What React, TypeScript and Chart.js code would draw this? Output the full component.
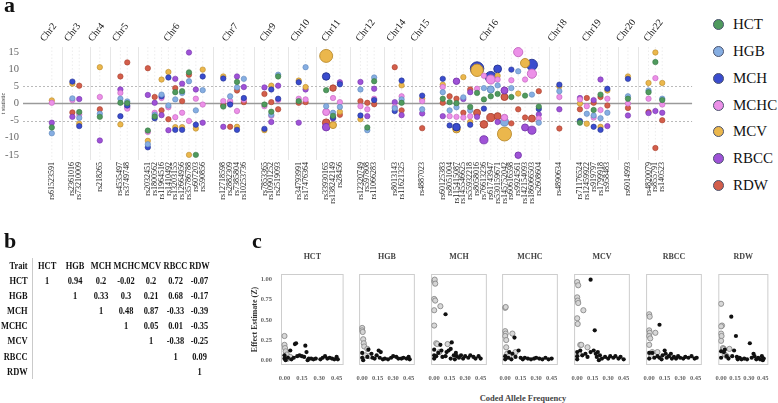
import React, { useEffect, useRef } from "react";
import { Chart, registerables } from "chart.js";

Chart.register(...registerables);

const SERIF = '"Liberation Serif", "Times New Roman", "DejaVu Serif", serif';

// ---------------- Panel a data ----------------
const TRAITS = ["HCT", "HGB", "MCH", "MCHC", "MCV", "RBCC", "RDW"];
const TRAIT_FILL = ["#4f9a5e", "#86aee2", "#3a4cce", "#ec90e8", "#ebb74c", "#9f52d7", "#d35e4b"];
const TRAIT_EDGE = ["#3a7847", "#5e86bb", "#24328f", "#c266be", "#b98a2c", "#7637ab", "#a7412f"];

const CHROMOSOMES = ["Chr2", "Chr3", "Chr4", "Chr5", "Chr6", "Chr7", "Chr9", "Chr10", "Chr11", "Chr12", "Chr14", "Chr15", "Chr16", "Chr18", "Chr19", "Chr20", "Chr22"];
const SNPS_PER_CHR = [1, 2, 1, 2, 9, 4, 3, 2, 3, 3, 2, 1, 15, 1, 5, 1, 3];
const SNP_IDS = [
  "rs61523591",
  "rs2361016", "rs73210009",
  "rs218265",
  "rs4535497", "rs3749748",
  "rs2032451", "rs1800562", "rs11964516", "rs1410492", "rs13203155", "rs12664956", "rs35786788", "rs607203", "rs590856",
  "rs12718598", "rs2882309", "rs7385804", "rs10253736",
  "rs7853365", "rs10901252", "rs2519093",
  "rs34793991", "rs17476364",
  "rs33930165", "rs138242149", "rs28456",
  "rs12320749", "rs597808", "rs11066283",
  "rs8013143", "rs11621325",
  "rs4887023",
  "rs60125383", "rs8051004", "rs115415087", "rs145546625", "rs55932218", "rs8058016", "rs76613236", "rs61743947", "rs530159671", "rs145752042", "rs60616598", "rs9924561", "rs142154093", "rs186066503", "rs2608604",
  "rs4890634",
  "rs71176524", "rs12459922", "rs919797", "rs1799918", "rs958483",
  "rs6014993",
  "rs4820079", "rs855791", "rs140523",
];
const CHR_GAP_SLOTS = 2;
const T_TICKS = [-15, -10, -5, 0, 5, 10, 15];
const T_THRESHOLD = 5;

// [SNP index in SNP_IDS, t statistic, relative marker size (1 = regular)]
const HCT_T = [[0, -7.0], [2, -2.5], [3, -3.9], [4, 0.2], [5, 0.1], [6, -7.9], [7, -3.8], [10, 3.3], [11, 3.6], [12, 9.1], [13, -15.0], [15, -0.9], [17, 6.3], [19, -0.3], [20, -2.4], [21, 7.9], [22, 0.7], [24, 3.9], [25, -3.6], [28, -7.0], [29, 6.5], [31, 0.2], [33, 1.4], [34, 0.4], [35, 0.1], [37, -1.0], [38, 3.1], [39, 1.2], [40, 2.1], [41, 2.8], [43, 1.9], [45, 2.3], [47, -0.9], [49, -5.6], [51, -1.9], [52, 2.6], [54, 1.4], [55, 3.3], [56, 12.1], [57, 1.0]];
const HGB_T = [[0, -8.7], [1, 1.5], [2, -4.2], [3, -3.0], [4, 1.4], [5, 0.6], [6, -11.9], [7, -3.3], [8, 2.6], [9, -0.6], [10, 1.2], [11, 3.1], [12, 6.5], [13, -2.0], [14, 3.9], [16, 2.1], [17, 4.7], [18, 7.2], [20, -3.3], [21, 8.4], [23, 10.6], [24, -0.8], [25, -2.7], [26, -1.0], [27, 4.1], [28, -7.8], [29, 7.6], [30, -1.4], [31, 1.2], [32, -1.7], [33, 3.3], [34, -2.0], [35, -1.1], [36, 1.8], [37, -2.0], [39, 4.5], [40, 4.1, 1.3], [41, 5.3], [42, -5.4, 1.5], [43, 4.5], [44, 9.4], [46, 2.6], [47, -5.6], [48, 3.6], [50, -3.0], [51, -3.5], [52, -4.3], [53, -2.7], [54, 2.1], [55, 3.8], [57, 1.4]];
const MCH_T = [[1, 6.4], [2, -6.6], [4, -3.7], [5, -0.6], [6, -12.8], [7, -4.3], [8, 2.1], [9, 7.6], [10, -7.7], [11, -7.7], [13, -6.2], [14, 7.9], [15, 7.3], [16, -0.3], [17, -7.7], [18, 1.6], [19, -7.4], [20, 4.1], [21, 1.4], [22, 6.2], [24, 7.9, 1.4], [25, -4.1], [26, 5.6], [27, -3.5], [29, 1.0], [30, -2.2], [31, 6.7], [32, 2.3], [33, 7.2], [34, -6.4], [35, -6.9, 1.4], [37, -6.2], [38, 10.2, 2.5], [39, -1.5], [40, 7.7, 2.1], [41, 10.1, 1.45], [43, 9.9], [46, 11.3, 2.05], [47, -1.6], [48, 5.5], [49, -5.1], [51, -6.8], [52, -7.7], [53, 4.3], [54, 7.2]];
const MCHC_T = [[0, 0.2], [1, 1.0], [2, -3.2], [3, 1.9], [4, 3.1], [5, -1.5], [6, -8.3], [7, -2.7], [8, 1.6], [9, -1.1], [10, -4.0], [11, -2.7], [12, -5.1], [13, 1.4], [14, -0.3], [15, 0.7], [16, 0.7], [17, -2.2], [18, 1.1], [19, -0.8], [20, -3.6], [21, 1.0], [22, 1.4], [23, 1.2], [24, -2.5, 1.3], [25, 1.6], [26, 0.4], [27, -0.8], [28, -1.7], [29, 1.4], [30, -1.0], [31, 2.1], [32, 0.7], [33, 4.8], [34, -3.7], [35, -3.9], [36, -4.1], [37, -3.7], [38, 4.3], [39, 8.1], [40, 7.0, 1.7], [41, 7.0], [42, -4.1, 1.2], [43, 6.8], [44, 15.0, 1.7], [45, 7.0], [46, 8.7, 1.7], [47, -4.4], [48, 1.9], [49, 1.2], [50, -0.8], [51, -4.1], [52, -1.9], [53, 1.4], [54, 0.0], [55, 1.4], [56, 7.4], [57, -0.3]];
const MCV_T = [[0, 0.9], [1, 5.8], [2, -5.9], [3, 10.6], [4, -6.1], [6, -10.9], [8, 7.0], [9, 9.2], [10, -6.9], [11, -6.9], [12, -15.0], [13, -7.3], [14, 9.9], [15, 7.9], [17, -6.8], [19, -7.8], [20, 5.2], [22, 6.7], [23, 4.8], [24, 13.9, 2.4], [25, -6.3, 1.3], [26, -2.4], [27, -4.6], [31, 5.3], [32, 1.4], [33, 5.5], [35, -7.5, 1.4], [36, 7.7], [37, -5.4], [38, 9.7, 2.3], [41, 8.1], [42, -8.9, 2.6], [44, 2.9], [45, 11.8, 1.7], [48, 5.0], [49, 0.0], [50, -5.9], [52, -6.8], [53, 3.8], [54, 7.9], [55, 6.0], [56, 14.9], [57, 6.0]];
const RBCC_T = [[0, -5.6], [1, -3.9], [2, 1.3], [3, -10.8], [4, 4.1], [5, -1.0], [6, 2.5], [7, 0.2], [8, -3.4], [9, -7.8], [10, 7.2], [11, 5.8], [12, 14.9], [13, 4.1], [14, -5.6], [15, -6.8], [16, 0.2], [17, 7.9], [18, 4.8], [19, 4.7], [20, -5.4], [21, 5.2], [22, -5.6], [23, 4.1], [24, -6.9, 1.4], [25, -4.4], [26, 6.2], [27, 6.3], [28, -3.7], [29, 4.3], [30, 0.4], [31, -3.4], [32, -2.9], [33, -3.7], [35, 6.5, 1.2], [36, 1.3], [37, 3.3], [38, -3.9], [39, -10.6, 1.5], [41, -5.4], [42, 3.8, 1.3], [44, -15.1, 1.2], [45, -7.0, 1.3], [46, -7.8, 1.5], [47, -3.2], [48, -1.7], [49, 1.6], [51, 1.0], [52, 7.0], [53, -6.6], [54, -3.5], [55, -2.8], [56, -2.2], [57, -2.7]];
const RDW_T = [[1, -2.6], [2, 5.2], [3, -1.7], [4, 7.9], [5, 12.0], [6, 10.3], [7, 1.9], [8, -2.0], [9, -4.6], [10, 4.5], [11, 0.7], [12, 8.4], [15, -0.5], [16, -6.8], [17, 3.8], [18, 0.4], [19, 2.8], [20, 0.4], [21, -1.7], [22, 0.2], [23, 0.4], [24, -5.6, 1.4], [25, 4.5, 1.2], [26, -3.3], [27, 0.7], [28, 0.2], [29, -0.2], [30, 10.6], [31, -2.0], [32, -7.2], [33, 0.2], [34, 2.1], [35, 1.4], [36, -2.7], [37, 4.1], [38, -2.7, 1.3], [39, -6.1, 1.4], [40, -4.1, 1.5], [41, -3.7, 1.3], [42, 1.9, 1.3], [43, -5.8], [44, -1.7], [45, -4.1], [46, -4.4, 1.3], [47, 3.6], [48, -7.3], [49, -1.7], [50, 1.6], [51, 0.2], [52, 1.9], [53, -0.6], [54, -1.3], [55, -2.5], [56, -13.0], [57, -4.9]];
const T_BY_TRAIT = [HCT_T, HGB_T, MCH_T, MCHC_T, MCV_T, RBCC_T, RDW_T];

// ---------------- Panel b data (upper triangle, from the diagonal) ----------------
const CORR_HCT = [1, 0.94, 0.2, -0.02, 0.2, 0.72, -0.07];
const CORR_HGB = [1, 0.33, 0.3, 0.21, 0.68, -0.17];
const CORR_MCH = [1, 0.48, 0.87, -0.33, -0.39];
const CORR_MCHC = [1, 0.05, 0.01, -0.35];
const CORR_MCV = [1, -0.38, -0.25];
const CORR_RBCC = [1, 0.09];
const CORR_RDW = [1];
const CORR_ROWS = [CORR_HCT, CORR_HGB, CORR_MCH, CORR_MCHC, CORR_MCV, CORR_RBCC, CORR_RDW];

// ---------------- Panel c data: [coded allele frequency, effect estimate Z] ----------------
const FREQ_TICKS = [0, 0.15, 0.3, 0.45];
const Z_TICKS = [0, 0.25, 0.5, 0.75, 1];

const HCT_FILLED = [[0.0, 0.06], [0.0, 0.02], [0.01, 0.0], [0.03, 0.03], [0.05, 0.12], [0.06, 0.01], [0.08, 0.03], [0.09, 0.2], [0.1, 0.21], [0.11, 0.05], [0.13, 0.06], [0.15, 0.05], [0.17, 0.04], [0.18, 0.18], [0.19, 0.1], [0.2, 0.0], [0.21, 0.02], [0.23, 0.02], [0.25, 0.01], [0.27, 0.02], [0.31, 0.01], [0.33, 0.03], [0.35, 0.05], [0.37, 0.02], [0.39, 0.03], [0.41, 0.02], [0.43, 0.01], [0.45, 0.04], [0.46, 0.01]];
const HCT_OPEN = [[0.0, 0.3], [0.0, 0.19], [0.005, 0.15], [0.01, 0.11], [0.02, 0.07], [0.03, 0.02], [0.05, 0.04]];
const HGB_FILLED = [[0.0, 0.09], [0.0, 0.03], [0.01, 0.0], [0.05, 0.04], [0.06, 0.13], [0.09, 0.08], [0.1, 0.03], [0.12, 0.02], [0.14, 0.06], [0.16, 0.12], [0.18, 0.1], [0.17, 0.03], [0.2, 0.01], [0.22, 0.02], [0.25, 0.01], [0.28, 0.03], [0.3, 0.05], [0.33, 0.04], [0.35, 0.02], [0.38, 0.02], [0.4, 0.03], [0.43, 0.02], [0.45, 0.04], [0.46, 0.01]];
const HGB_OPEN = [[0.0, 0.4], [0.0, 0.37], [0.005, 0.35], [0.01, 0.26], [0.015, 0.21], [0.02, 0.17], [0.05, 0.14], [0.03, 0.06], [0.07, 0.05]];
const MCH_FILLED = [[0.11, 0.57], [0.06, 0.19], [0.0, 0.13], [0.0, 0.06], [0.0, 0.02], [0.02, 0.05], [0.04, 0.09], [0.07, 0.12], [0.08, 0.04], [0.11, 0.05], [0.12, 0.1], [0.14, 0.12], [0.17, 0.22], [0.16, 0.14], [0.16, 0.02], [0.19, 0.06], [0.2, 0.01], [0.21, 0.09], [0.22, 0.05], [0.24, 0.03], [0.26, 0.06], [0.28, 0.02], [0.3, 0.05], [0.33, 0.03], [0.35, 0.06], [0.38, 0.04], [0.4, 0.02], [0.43, 0.05], [0.45, 0.02]];
const MCH_OPEN = [[0.0, 0.98], [0.005, 1.0], [0.01, 0.95], [0.0, 0.76], [0.01, 0.74], [0.0, 0.62], [0.06, 0.67], [0.0, 0.43], [0.02, 0.21], [0.03, 0.2], [0.13, 0.2], [0.05, 0.1]];
const MCHC_FILLED = [[0.09, 0.28], [0.04, 0.1], [0.07, 0.08], [0.0, 0.05], [0.0, 0.01], [0.03, 0.03], [0.06, 0.01], [0.13, 0.12], [0.1, 0.04], [0.15, 0.03], [0.17, 0.01], [0.19, 0.03], [0.22, 0.02], [0.25, 0.01], [0.28, 0.02], [0.3, 0.03], [0.33, 0.02], [0.36, 0.01], [0.39, 0.03], [0.42, 0.01], [0.45, 0.02]];
const MCHC_OPEN = [[0.0, 0.65], [0.005, 0.66], [0.0, 0.36], [0.005, 0.33], [0.0, 0.3], [0.01, 0.25], [0.01, 0.16], [0.07, 0.33], [0.02, 0.08], [0.1, 0.1], [0.04, 0.05]];
const MCV_FILLED = [[0.13, 1.0], [0.17, 0.37], [0.0, 0.1], [0.0, 0.05], [0.0, 0.01], [0.03, 0.12], [0.05, 0.06], [0.08, 0.08], [0.1, 0.04], [0.13, 0.1], [0.16, 0.12], [0.18, 0.08], [0.19, 0.04], [0.2, 0.1], [0.21, 0.0], [0.22, 0.06], [0.24, 0.02], [0.27, 0.04], [0.3, 0.02], [0.32, 0.05], [0.35, 0.03], [0.37, 0.05], [0.4, 0.02], [0.42, 0.04], [0.45, 0.01]];
const MCV_OPEN = [[0.0, 0.97], [0.01, 0.93], [0.0, 0.78], [0.005, 0.74], [0.01, 0.71], [0.0, 0.52], [0.005, 0.45], [0.06, 0.62], [0.03, 0.19], [0.04, 0.19], [0.1, 0.16], [0.02, 0.08]];
const RBCC_FILLED = [[0.1, 0.44], [0.0, 0.09], [0.0, 0.02], [0.03, 0.09], [0.05, 0.03], [0.08, 0.05], [0.1, 0.03], [0.12, 0.01], [0.13, 0.06], [0.15, 0.12], [0.16, 0.08], [0.17, 0.03], [0.19, 0.05], [0.21, 0.08], [0.22, 0.02], [0.24, 0.04], [0.26, 0.02], [0.28, 0.05], [0.3, 0.03], [0.33, 0.02], [0.35, 0.04], [0.38, 0.03], [0.41, 0.05], [0.44, 0.02], [0.46, 0.03]];
const RBCC_OPEN = [[0.0, 0.57], [0.005, 0.54], [0.0, 0.37], [0.005, 0.34], [0.0, 0.3], [0.01, 0.27], [0.0, 0.19], [0.06, 0.34], [0.03, 0.1], [0.08, 0.1], [0.02, 0.05]];
const RDW_FILLED = [[0.11, 0.54], [0.16, 0.3], [0.31, 0.21], [0.0, 0.11], [0.0, 0.03], [0.03, 0.1], [0.04, 0.13], [0.06, 0.05], [0.08, 0.02], [0.12, 0.05], [0.14, 0.12], [0.17, 0.04], [0.18, 0.01], [0.2, 0.03], [0.22, 0.01], [0.25, 0.02], [0.28, 0.01], [0.33, 0.03], [0.35, 0.08], [0.36, 0.05], [0.38, 0.01], [0.4, 0.03], [0.42, 0.01], [0.44, 0.05], [0.45, 0.0], [0.46, 0.02]];
const RDW_OPEN = [[0.0, 0.7], [0.01, 0.43], [0.0, 0.42], [0.0, 0.33], [0.005, 0.3], [0.0, 0.24], [0.02, 0.15], [0.03, 0.14], [0.09, 0.14], [0.04, 0.07], [0.06, 0.05]];
const FACET_FILLED = [HCT_FILLED, HGB_FILLED, MCH_FILLED, MCHC_FILLED, MCV_FILLED, RBCC_FILLED, RDW_FILLED];
const FACET_OPEN = [HCT_OPEN, HGB_OPEN, MCH_OPEN, MCHC_OPEN, MCV_OPEN, RBCC_OPEN, RDW_OPEN];

// ---------------- helpers ----------------
const SNP_CHR: number[] = SNPS_PER_CHR.flatMap((n, c) => Array(n).fill(c));
const snpSlot = (i: number) => i + SNP_CHR[i] * CHR_GAP_SLOTS;
const chrFirst = (c: number) => SNP_CHR.indexOf(c);
const chrLast = (c: number) => SNP_CHR.lastIndexOf(c);
const chrCenter = (c: number) => (snpSlot(chrFirst(c)) + snpSlot(chrLast(c))) / 2;
const chrBoundary = (c: number) => (snpSlot(chrLast(c - 1)) + snpSlot(chrFirst(c))) / 2;
const X_MIN = -4.2;
const X_MAX = snpSlot(SNP_IDS.length - 1) + 4.35;
const BASE_RADIUS = 2.7;

function ManhattanPanel() {
  const ref = useRef<HTMLCanvasElement>(null);
  useEffect(() => {
    const guides = {
      id: "guides",
      beforeDatasetsDraw(chart: any) {
        const { ctx, chartArea: a, scales } = chart;
        const x = scales.x;
        const y = scales.y;
        const vline = (px: number) => {
          ctx.beginPath();
          ctx.moveTo(px, a.top);
          ctx.lineTo(px, a.bottom);
          ctx.stroke();
        };
        const hline = (py: number) => {
          ctx.beginPath();
          ctx.moveTo(a.left, py);
          ctx.lineTo(a.right, py);
          ctx.stroke();
        };
        ctx.save();
        ctx.strokeStyle = "#e6e6e6";
        ctx.lineWidth = 1;
        for (let c = 1; c < CHROMOSOMES.length; c++) {
          vline(Math.round(x.getPixelForValue(chrBoundary(c))) + 0.5);
        }
        ctx.strokeStyle = "rgba(150,150,150,0.25)";
        ctx.lineWidth = 0.7;
        ctx.setLineDash([1.5, 2]);
        SNP_IDS.forEach((_, i) => vline(x.getPixelForValue(snpSlot(i))));
        ctx.strokeStyle = "#b3b3b3";
        ctx.lineWidth = 0.9;
        ctx.setLineDash([2, 2]);
        hline(Math.round(y.getPixelForValue(T_THRESHOLD)) + 0.5);
        hline(Math.round(y.getPixelForValue(-T_THRESHOLD)) + 0.5);
        ctx.setLineDash([]);
        ctx.strokeStyle = "#9a9a9a";
        ctx.lineWidth = 1.3;
        hline(y.getPixelForValue(0));
        ctx.restore();
      },
    };

    const datasets: any[] = [];
    TRAITS.forEach((name, k) => {
      const pts = T_BY_TRAIT[k];
      datasets.push({
        label: name,
        order: 0,
        data: pts.filter((p) => p.length < 3).map((p) => ({ x: snpSlot(p[0]), y: p[1] })),
        backgroundColor: TRAIT_FILL[k],
        borderColor: TRAIT_EDGE[k],
        borderWidth: 0.6,
        pointRadius: BASE_RADIUS,
      });
      pts.filter((p) => p.length >= 3).forEach((p) => {
        datasets.push({
          label: name,
          order: Math.round(p[2] * 10),
          data: [{ x: snpSlot(p[0]), y: p[1] }],
          backgroundColor: TRAIT_FILL[k],
          borderColor: TRAIT_EDGE[k],
          borderWidth: 0.9,
          pointRadius: BASE_RADIUS * p[2],
        });
      });
    });

    const chart = new Chart(ref.current as HTMLCanvasElement, {
      type: "scatter",
      data: { datasets },
      options: {
        animation: false,
        responsive: false,
        maintainAspectRatio: false,
        events: [],
        layout: { padding: { left: 0, right: 5, top: 0, bottom: 0 } },
        plugins: { legend: { display: false }, tooltip: { enabled: false } },
        scales: {
          x: {
            type: "linear",
            position: "bottom",
            min: X_MIN,
            max: X_MAX,
            afterBuildTicks: (s: any) => {
              s.ticks = SNP_IDS.map((_, i) => ({ value: snpSlot(i) }));
            },
            afterFit: (s: any) => {
              s.height = 90;
            },
            ticks: {
              autoSkip: false,
              minRotation: 90,
              maxRotation: 90,
              padding: 2,
              color: "#222",
              font: { family: SERIF, size: 8 },
              callback: (_v: any, i: number) => SNP_IDS[i],
            },
            grid: { display: false, drawTicks: false },
            border: { display: false },
          },
          chr: {
            type: "linear",
            axis: "x",
            position: "top",
            min: X_MIN,
            max: X_MAX,
            afterBuildTicks: (s: any) => {
              s.ticks = CHROMOSOMES.map((_, c) => ({ value: chrCenter(c) }));
            },
            afterFit: (s: any) => {
              s.height = 47;
            },
            ticks: {
              autoSkip: false,
              minRotation: 52,
              maxRotation: 52,
              padding: 3,
              color: "#222",
              font: { family: SERIF, size: 10 },
              callback: (_v: any, i: number) => CHROMOSOMES[i],
            },
            grid: { display: false, drawTicks: false },
            border: { display: false },
          },
          y: {
            type: "linear",
            min: -16.5,
            max: 16.5,
            afterBuildTicks: (s: any) => {
              s.ticks = T_TICKS.map((v) => ({ value: v }));
            },
            afterFit: (s: any) => {
              s.width = 23;
            },
            ticks: { padding: 4, color: "#666", font: { family: SERIF, size: 10.5 } },
            title: { display: true, text: "t statistic", color: "#333", font: { family: SERIF, size: 6 }, padding: 0 },
            grid: { display: false, drawTicks: false },
            border: { display: false },
          },
        },
      } as any,
      plugins: [guides],
    });
    return () => chart.destroy();
  }, []);
  return <canvas ref={ref} width={700} height={250} style={{ position: "absolute", left: 0, top: 0 }} />;
}

function Legend() {
  return (
    <div style={{ position: "absolute", left: 712.5, top: 11.6 }}>
      {TRAITS.map((t, k) => (
        <div key={t} style={{ display: "flex", alignItems: "center", height: 26.7 }}>
          <span
            style={{
              display: "inline-block",
              width: 11,
              height: 11,
              borderRadius: "50%",
              background: TRAIT_FILL[k],
              border: "1.5px solid #4b536e",
              boxSizing: "border-box",
            }}
          />
          <span style={{ marginLeft: 9.5, font: `15px ${SERIF}`, color: "#111", lineHeight: "15px" }}>{t}</span>
        </div>
      ))}
    </div>
  );
}

function CorrTable() {
  const colW = [36.25, 33.75, 31.25, 31.25, 31.25, 30, 30];
  const labelW = 40.6;
  const total = labelW + colW.reduce((a, b) => a + b, 0);
  const cell: any = { padding: 0, textAlign: "center", whiteSpace: "nowrap", lineHeight: "15.1px", height: 15.1 };
  const head: any = { ...cell, textAlign: "right", paddingRight: 5.6, borderRight: "1.3px solid #bdbdbd" };
  return (
    <div style={{ position: "absolute", left: 0, top: 258, transform: "scaleX(0.8)", transformOrigin: "0 0" }}>
      <table
        style={{
          borderCollapse: "collapse",
          tableLayout: "fixed",
          width: total,
          font: `bold 10.5px ${SERIF}`,
          color: "#111",
        }}
      >
        <colgroup>
          <col style={{ width: labelW }} />
          {colW.map((w, i) => (
            <col key={i} style={{ width: w }} />
          ))}
        </colgroup>
        <tbody>
          <tr>
            <td style={head}>Trait</td>
            {TRAITS.map((t) => (
              <td key={t} style={cell}>
                {t}
              </td>
            ))}
          </tr>
          {TRAITS.map((t, r) => (
            <tr key={t}>
              <td style={head}>{t}</td>
              {TRAITS.map((_, c) => (
                <td key={c} style={cell}>
                  {c >= r ? String(CORR_ROWS[r][c - r]) : ""}
                </td>
              ))}
            </tr>
          ))}
        </tbody>
      </table>
    </div>
  );
}

function Facet({ k }: { k: number }) {
  const ref = useRef<HTMLCanvasElement>(null);
  const first = k === 0;
  const last = k === TRAITS.length - 1;
  const boxLeft = Math.round(281 + k * 71.8);
  const boxW = 65;
  const padLeft = first ? 35 : 6;
  const padRight = last ? 1 : 6;
  const canvasLeft = boxLeft - padLeft;
  const canvasW = padLeft + boxW + padRight;

  useEffect(() => {
    const decor = {
      id: "facetDecor",
      beforeDatasetsDraw(chart: any) {
        const { ctx, chartArea: a } = chart;
        ctx.save();
        ctx.strokeStyle = "#cdcdcd";
        ctx.lineWidth = 1;
        ctx.strokeRect(a.left + 0.5, a.top + 0.5, a.right - a.left - 1, a.bottom - a.top - 1);
        ctx.fillStyle = "#444";
        ctx.font = `bold 8px ${SERIF}`;
        ctx.textAlign = "center";
        ctx.textBaseline = "middle";
        ctx.fillText(TRAITS[k], (a.left + a.right) / 2, a.top - 17);
        ctx.restore();
      },
    };
    const tickFont = { family: SERIF, size: 6.5, weight: "bold" as const };
    const chart = new Chart(ref.current as HTMLCanvasElement, {
      type: "scatter",
      data: {
        datasets: [
          {
            label: "filled",
            data: FACET_FILLED[k].map(([f, z]) => ({ x: f, y: z })),
            backgroundColor: "#111",
            borderColor: "#111",
            borderWidth: 0,
            pointRadius: 2.1,
          },
          {
            label: "open",
            data: FACET_OPEN[k].map(([f, z]) => ({ x: f, y: z })),
            backgroundColor: "rgba(214,214,214,0.95)",
            borderColor: "#8a8a8a",
            borderWidth: 0.9,
            pointRadius: 2.6,
          },
        ],
      },
      options: {
        animation: false,
        responsive: false,
        maintainAspectRatio: false,
        events: [],
        layout: { padding: { top: 24, left: first ? 0 : padLeft, right: padRight, bottom: 0 } },
        plugins: { legend: { display: false }, tooltip: { enabled: false } },
        scales: {
          x: {
            type: "linear",
            min: -0.03,
            max: 0.51,
            afterBuildTicks: (s: any) => {
              s.ticks = FREQ_TICKS.map((v) => ({ value: v }));
            },
            afterFit: (s: any) => {
              s.height = 20;
            },
            ticks: {
              autoSkip: false,
              maxRotation: 0,
              minRotation: 0,
              padding: 9,
              color: "#666",
              font: tickFont,
              callback: (v: any) => Number(v).toFixed(2),
            },
            grid: { display: false, drawTicks: false },
            border: { display: false },
          },
          y: {
            type: "linear",
            display: first,
            min: -0.06,
            max: 1.07,
            afterBuildTicks: (s: any) => {
              s.ticks = Z_TICKS.map((v) => ({ value: v }));
            },
            afterFit: (s: any) => {
              s.width = padLeft;
            },
            ticks: {
              padding: 9,
              color: "#666",
              font: tickFont,
              callback: (v: any) => Number(v).toFixed(2),
            },
            title: {
              display: true,
              text: "Effect Estimate (Z)",
              color: "#333",
              font: { family: SERIF, size: 8, weight: "bold" },
              padding: { top: 4, bottom: 0 },
            },
            grid: { display: false, drawTicks: false },
            border: { display: false },
          },
        },
      } as any,
      plugins: [decor],
    });
    return () => chart.destroy();
  }, [k]);

  return <canvas ref={ref} width={canvasW} height={135} style={{ position: "absolute", left: canvasLeft, top: 250 }} />;
}

function Letter({ ch, left, baseline }: { ch: string; left: number; baseline: number }) {
  return (
    <div
      style={{
        position: "absolute",
        left,
        top: baseline - 18.4,
        font: `bold 22px ${SERIF}`,
        lineHeight: "22px",
        color: "#111",
      }}
    >
      {ch}
    </div>
  );
}

export default function App() {
  return (
    <div
      style={{
        position: "fixed",
        left: 0,
        top: 0,
        width: 778,
        height: 403,
        overflow: "hidden",
        background: "#fff",
      }}
    >
      <ManhattanPanel />
      <Legend />
      <Letter ch="a" left={4} baseline={12} />
      <Letter ch="b" left={4} baseline={248} />
      <Letter ch="c" left={252} baseline={248} />
      <CorrTable />
      {TRAITS.map((t, k) => (
        <Facet key={t} k={k} />
      ))}
      <div
        style={{
          position: "absolute",
          left: 423,
          top: 393,
          width: 200,
          textAlign: "center",
          font: `bold 8.5px ${SERIF}`,
          lineHeight: "10px",
          color: "#444",
        }}
      >
        Coded Allele Frequency
      </div>
    </div>
  );
}
